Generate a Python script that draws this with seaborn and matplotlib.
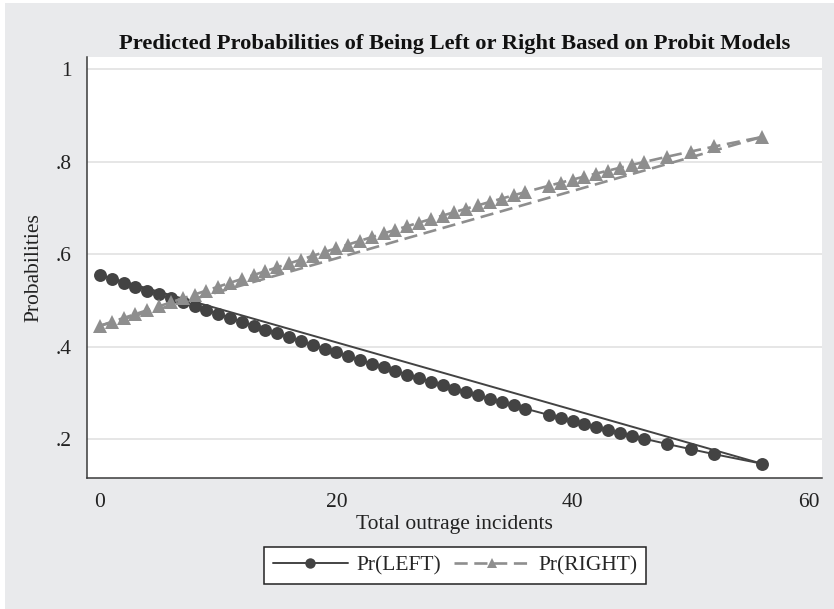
import numpy as np
import pandas as pd
import seaborn as sns
import matplotlib.pyplot as plt
from matplotlib.patches import Rectangle

# Predicted probabilities from the probit models, by number of outrage incidents
incidents = [0, 1, 2, 3, 4, 5, 6, 7, 8, 9, 10, 11, 12, 13, 14, 15, 16, 17, 18, 19,
             20, 21, 22, 23, 24, 25, 26, 27, 28, 29, 30, 31, 32, 33, 34, 35, 36,
             38, 39, 40, 41, 42, 43, 44, 45, 46, 48, 50, 52, 56]
pr_left = [0.5549, 0.5465, 0.5381, 0.5297, 0.5212, 0.5128, 0.5043, 0.4959, 0.4874, 0.4789,
           0.4705, 0.4621, 0.4537, 0.4453, 0.4369, 0.4286, 0.4203, 0.4120, 0.4038, 0.3956,
           0.3874, 0.3793, 0.3713, 0.3633, 0.3554, 0.3475, 0.3397, 0.3320, 0.3243, 0.3167,
           0.3092, 0.3018, 0.2945, 0.2872, 0.2800, 0.2729, 0.2659,
           0.2522, 0.2455, 0.2389, 0.2323, 0.2259, 0.2196, 0.2134, 0.2072, 0.2012,
           0.1895, 0.1783, 0.1674, 0.1470]
pr_right = [0.4451, 0.4535, 0.4619, 0.4703, 0.4788, 0.4872, 0.4957, 0.5041, 0.5126, 0.5211,
            0.5295, 0.5379, 0.5463, 0.5547, 0.5631, 0.5714, 0.5797, 0.5880, 0.5962, 0.6044,
            0.6126, 0.6207, 0.6287, 0.6367, 0.6446, 0.6525, 0.6603, 0.6680, 0.6757, 0.6833,
            0.6908, 0.6982, 0.7055, 0.7128, 0.7200, 0.7271, 0.7341,
            0.7478, 0.7545, 0.7611, 0.7677, 0.7741, 0.7804, 0.7866, 0.7928, 0.7988,
            0.8105, 0.8217, 0.8326, 0.8530]

x_ticks = [0, 20, 40, 60]
y_ticks = [0.2, 0.4, 0.6, 0.8, 1.0]
y_tick_labels = [".2", ".4", ".6", ".8", "1"]
series_labels = ["Pr(LEFT)", "Pr(RIGHT)"]

df = pd.DataFrame({"incidents": incidents, "left": pr_left, "right": pr_right})

sns.set_style("white")
plt.rcParams["font.family"] = ["Liberation Serif", "DejaVu Serif"]

BG = "#e9eaec"
LEFT_C = "#434343"
RIGHT_C = "#8e8e8e"
AXIS_C = "#3a3a3a"
TEXT_C = "#222222"

fig = plt.figure(figsize=(8.34, 6.09), dpi=100, facecolor="white")
fig.patches.append(Rectangle((5 / 834, 0), 1, 1 - 3 / 609, transform=fig.transFigure,
                             facecolor=BG, edgecolor="none", zorder=-10))

ax = fig.add_axes([0.1043, 0.2151, 0.8813, 0.6913])
ax.set_facecolor("white")

# Straight segments joining the first and last observations (data order wraps around)
ends = df.iloc[[0, -1]]
sns.lineplot(data=ends, x="incidents", y="left", sort=False, estimator=None,
             color=LEFT_C, lw=1.4, ax=ax, legend=False, zorder=2)
sns.lineplot(data=ends, x="incidents", y="right", sort=False, estimator=None,
             color=RIGHT_C, lw=1.9, linestyle=(0, (5, 2.5)), ax=ax, legend=False, zorder=2)

sns.lineplot(data=df, x="incidents", y="left", sort=False, estimator=None,
             color=LEFT_C, lw=1.4, marker="o", markersize=9.3, markeredgewidth=0,
             label=series_labels[0], ax=ax, zorder=3)
sns.lineplot(data=df, x="incidents", y="right", sort=False, estimator=None,
             color=RIGHT_C, lw=1.9, linestyle=(0, (5, 2.5)), marker="^", markersize=10.3,
             markeredgewidth=0, label=series_labels[1], ax=ax, zorder=3)

ax.set_xlim(-1.1, 61.1)
ax.set_ylim(0.116, 1.026)
ax.set_xticks(x_ticks)
ax.set_yticks(y_ticks)
ax.set_yticklabels(y_tick_labels)

ax.grid(axis="y", color="#e4e4e4", lw=1.3)
ax.grid(axis="x", visible=False)
for side in ["top", "right"]:
    ax.spines[side].set_visible(False)
for side in ["left", "bottom"]:
    ax.spines[side].set_color(AXIS_C)
    ax.spines[side].set_linewidth(1.1)

ax.tick_params(axis="both", direction="out", length=7, width=1, color=AXIS_C,
               labelsize=15.5, labelcolor=TEXT_C, pad=4)
ax.tick_params(axis="x", pad=4)

ax.set_xlabel("Total outrage incidents", fontsize=15.5, color=TEXT_C, labelpad=2)
ax.set_ylabel("Probabilities", fontsize=15.5, color=TEXT_C, labelpad=9)

fig.text(455 / 834, 1 - 44 / 609,
         "Predicted Probabilities of Being Left or Right Based on Probit Models",
         ha="center", va="center", fontsize=16.2, fontweight="bold", color="#111111")

handles, labels = ax.get_legend_handles_labels()
ax.get_legend().remove()
leg = fig.legend(handles, labels, loc="center", bbox_to_anchor=(0.5456, 0.072),
                 ncol=2, frameon=True, fancybox=False, edgecolor=TEXT_C,
                 facecolor="white", framealpha=1, fontsize=15.5, handlelength=3.5,
                 columnspacing=0.6, handletextpad=0.4, borderpad=0.4)
leg.get_frame().set_linewidth(1.1)
for h in leg.legend_handles:
    h.set_markersize(7.5)

fig.savefig("out.png", dpi=100, facecolor=fig.get_facecolor())
